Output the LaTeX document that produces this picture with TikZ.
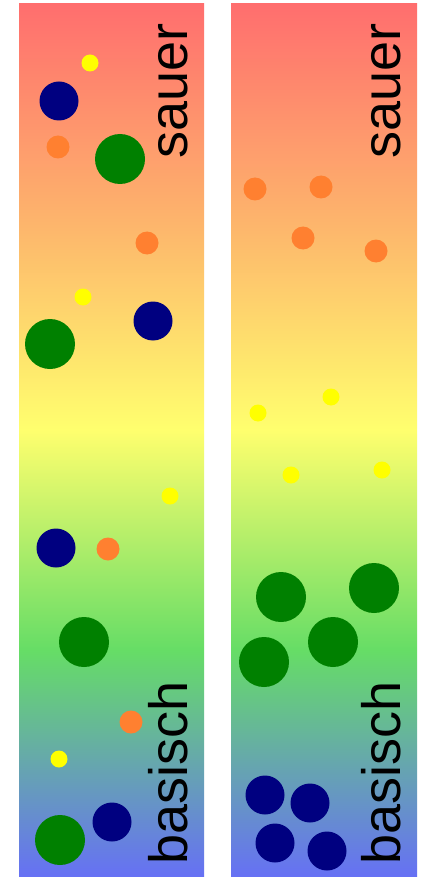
\documentclass[tikz,border=0pt]{standalone}
\usepackage{fontspec}
\setmainfont{Liberation Sans}
\definecolor{cA}{RGB}{255,110,110}
\definecolor{cB}{RGB}{253,180,108}
\definecolor{cC}{RGB}{255,255,110}
\definecolor{cD}{RGB}{102,221,102}
\definecolor{cE}{RGB}{102,112,245}
\definecolor{navyb}{RGB}{0,0,128}
\definecolor{greenb}{RGB}{0,128,0}
\definecolor{orangeb}{RGB}{255,128,48}
\definecolor{yellowb}{RGB}{255,255,0}
\pgfdeclareverticalshading{phgrad}{100bp}{color(0bp)=(cE); color(25bp)=(cE); color(38bp)=(cD); color(50.6bp)=(cC); color(62.6bp)=(cB); color(75bp)=(cA); color(100bp)=(cA)}
\tikzset{
  stripbox/.style={shading=phgrad, draw=none},
  bl/.style={circle, fill=navyb, minimum size=39pt, inner sep=0pt, draw=none},
  gr/.style={circle, fill=greenb, minimum size=50pt, inner sep=0pt, draw=none},
  orb/.style={circle, fill=orangeb, minimum size=23pt, inner sep=0pt, draw=none},
  ye/.style={circle, fill=yellowb, minimum size=17pt, inner sep=0pt, draw=none},
  lab/.style={rotate=90, anchor=base west, inner sep=0pt, font=\fontsize{54}{60}\selectfont}
}
\begin{document}
\begin{tikzpicture}[x=1pt,y=-1pt]
\useasboundingbox (0,0) rectangle (420,877);
\fill[white] (0,0) rectangle (420,877);
% strips
\shade[stripbox] (19,4) rectangle (204,877);
\shade[stripbox] (231,4) rectangle (417,877);
% left strip particles
\node[ye] (l1) at (90,63) {};
\node[bl] (l2) at (59,101) {};
\node[orb] (l3) at (58,147) {};
\node[gr] (l4) at (120,159) {};
\node[orb] (l5) at (147,243) {};
\node[ye] (l6) at (83,297) {};
\node[bl] (l7) at (153,321) {};
\node[gr] (l8) at (50,344) {};
\node[ye] (l9) at (170,496) {};
\node[bl] (l10) at (56,548) {};
\node[orb] (l11) at (108,549) {};
\node[gr] (l12) at (84,642) {};
\node[orb] (l13) at (131,722) {};
\node[ye] (l14) at (59,759) {};
\node[bl] (l15) at (112,822) {};
\node[gr] (l16) at (60,840) {};
% right strip particles
\node[orb] (r1) at (255,189) {};
\node[orb] (r2) at (321,187) {};
\node[orb] (r3) at (303,238) {};
\node[orb] (r4) at (376,251) {};
\node[ye] (r5) at (258,413) {};
\node[ye] (r6) at (331,397) {};
\node[ye] (r7) at (291,475) {};
\node[ye] (r8) at (382,470) {};
\node[gr] (r9) at (281,597) {};
\node[gr] (r10) at (374,588) {};
\node[gr] (r11) at (333,642) {};
\node[gr] (r12) at (264,662) {};
\node[bl] (r13) at (265,795) {};
\node[bl] (r14) at (310,803) {};
\node[bl] (r15) at (275,843) {};
\node[bl] (r16) at (327,851) {};
% labels
\node[lab] (t1) at (187,159) {sauer};
\node[lab] (t2) at (187,865) {basisch};
\node[lab] (t3) at (400,159) {sauer};
\node[lab] (t4) at (400,865) {basisch};
\end{tikzpicture}
\end{document}
